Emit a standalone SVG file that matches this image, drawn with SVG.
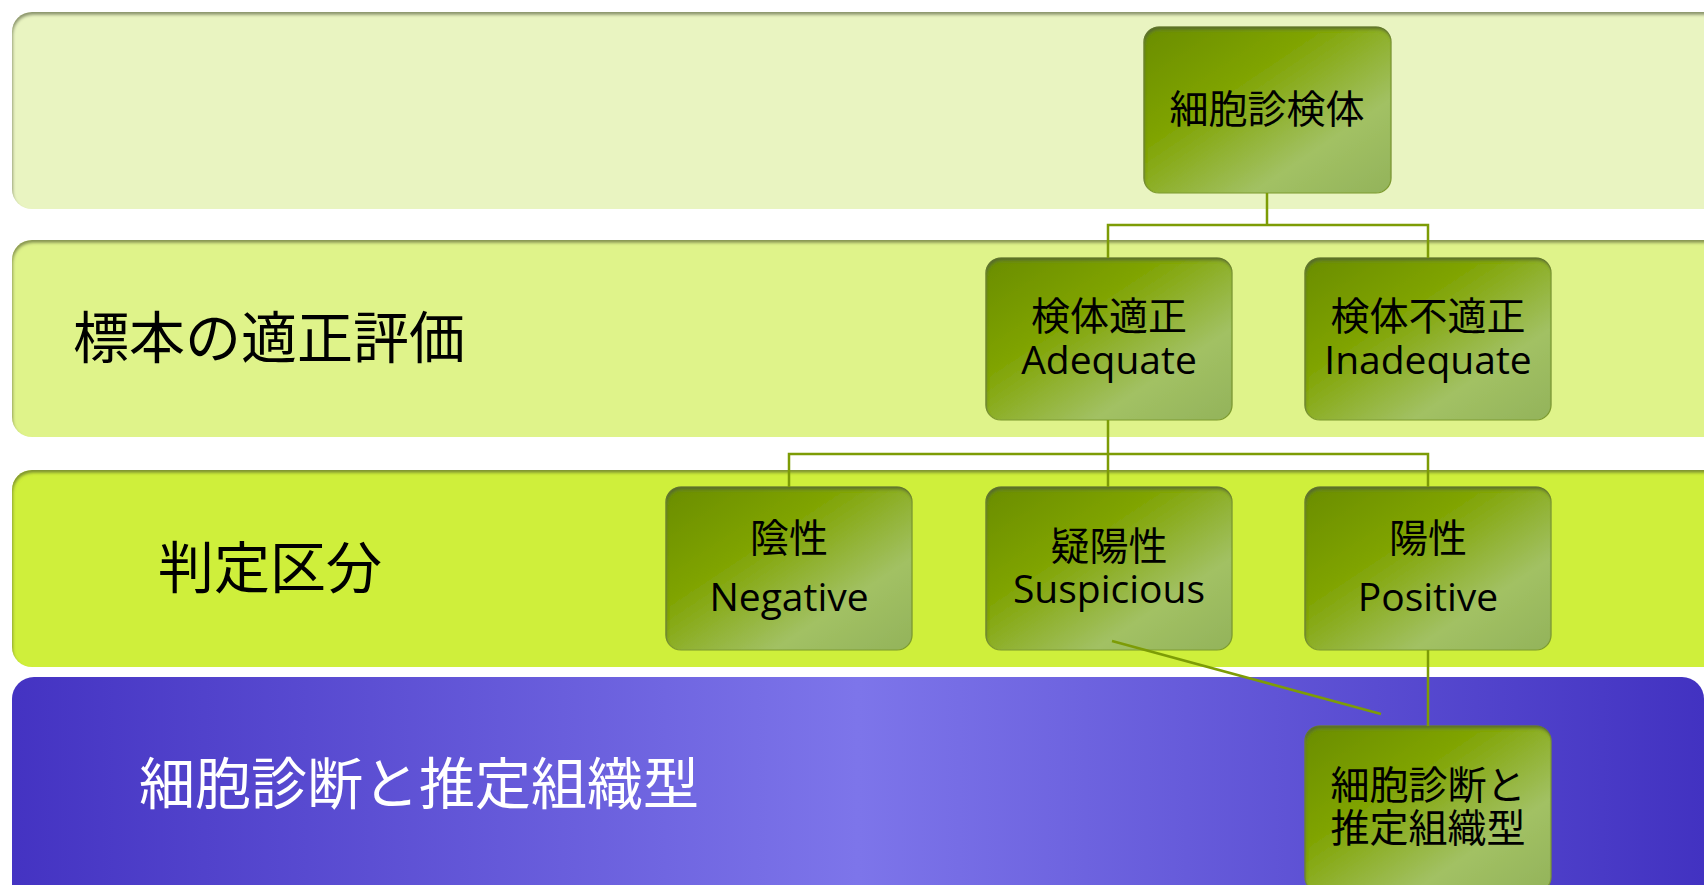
<svg xmlns="http://www.w3.org/2000/svg" width="1704" height="885" viewBox="0 0 1704 885">
<defs>
<style>
.t{font-family:"Open Sans","Noto Sans CJK JP",sans-serif;fill:#000;text-anchor:middle}
.nt{font-size:39px}
.bl{font-family:"Noto Sans CJK JP",sans-serif;font-size:56px;fill:#000}
.conn{fill:none;stroke:#7d9c06;stroke-width:2.5}
.node{fill:url(#ng);stroke:#7f9c32;stroke-width:1.2;filter:url(#inset)}
</style>
<linearGradient id="ng" x1="0" y1="0" x2="1" y2="1">
<stop offset="0" stop-color="#6a8d00"/>
<stop offset="0.35" stop-color="#7fa300"/>
<stop offset="0.72" stop-color="#a2c164"/>
<stop offset="1" stop-color="#93b35a"/>
</linearGradient>
<linearGradient id="pg" x1="0" y1="0" x2="1" y2="0">
<stop offset="0" stop-color="#4433c2"/>
<stop offset="0.5" stop-color="#7d75ea"/>
<stop offset="1" stop-color="#4232c1"/>
</linearGradient>
<filter id="inset" x="-5%" y="-5%" width="110%" height="110%">
<feComponentTransfer in="SourceAlpha"><feFuncA type="table" tableValues="1 0"/></feComponentTransfer>
<feGaussianBlur stdDeviation="1.5"/>
<feOffset dx="1" dy="2.5" result="off"/>
<feFlood flood-color="#4f5a30" flood-opacity="0.75"/>
<feComposite operator="in" in2="off"/>
<feComposite operator="in" in2="SourceAlpha" result="sh"/>
<feMerge><feMergeNode in="SourceGraphic"/><feMergeNode in="sh"/></feMerge>
</filter>
</defs>
<rect width="1704" height="885" fill="#ffffff"/>
<g id="bands">
<rect id="band1" x="12" y="12" width="1730" height="197" rx="20" fill="#e9f4c1" filter="url(#inset)"/>
<rect id="band2" x="12" y="240" width="1730" height="197" rx="20" fill="#dff38a" filter="url(#inset)"/>
<rect id="band3" x="12" y="470" width="1730" height="197" rx="20" fill="#cfef3b" filter="url(#inset)"/>
<rect id="band4" x="12" y="677" width="1692" height="240" rx="22" fill="url(#pg)"/>
<text class="bl" x="73" y="358">標本の適正評価</text>
<text class="bl" x="158" y="588">判定区分</text>
<text class="bl" x="139" y="804" style="fill:#ffffff">細胞診断と推定組織型</text>
</g>
<g id="n1"><rect class="node" x="1144" y="27" width="247" height="166" rx="15"/><text class="t nt" x="1267" y="123">細胞診検体</text></g>
<g id="n2"><rect class="node" x="986" y="258" width="246" height="162" rx="15"/><text class="t nt" x="1109" y="330">検体適正</text><text class="t nt" x="1109" y="374">Adequate</text></g>
<g id="n3"><rect class="node" x="1305" y="258" width="246" height="162" rx="15"/><text class="t nt" x="1428" y="330">検体不適正</text><text class="t nt" x="1428" y="374">Inadequate</text></g>
<g id="n4"><rect class="node" x="666" y="487" width="246" height="163" rx="15"/><text class="t nt" x="789" y="552">陰性</text><text class="t nt" x="789" y="611">Negative</text></g>
<g id="n5"><rect class="node" x="986" y="487" width="246" height="163" rx="15"/><text class="t nt" x="1109" y="560">疑陽性</text><text class="t nt" x="1109" y="603">Suspicious</text></g>
<g id="n6"><rect class="node" x="1305" y="487" width="246" height="163" rx="15"/><text class="t nt" x="1428" y="552">陽性</text><text class="t nt" x="1428" y="611">Positive</text></g>
<g id="n7"><rect class="node" x="1305" y="726" width="246" height="166" rx="15"/><text class="t nt" x="1428" y="799">細胞診断と</text><text class="t nt" x="1428" y="842">推定組織型</text></g>
<g id="connectors">
<path class="conn" d="M1267 193 V225 M1108 258 V225 H1428 V258"/>
<path class="conn" d="M1108 420 V487 M789 487 V454 H1428 V487"/>
<path class="conn" d="M1428 650 V726"/>
<path class="conn" d="M1112 641 L1381 714"/>
</g>
</svg>
